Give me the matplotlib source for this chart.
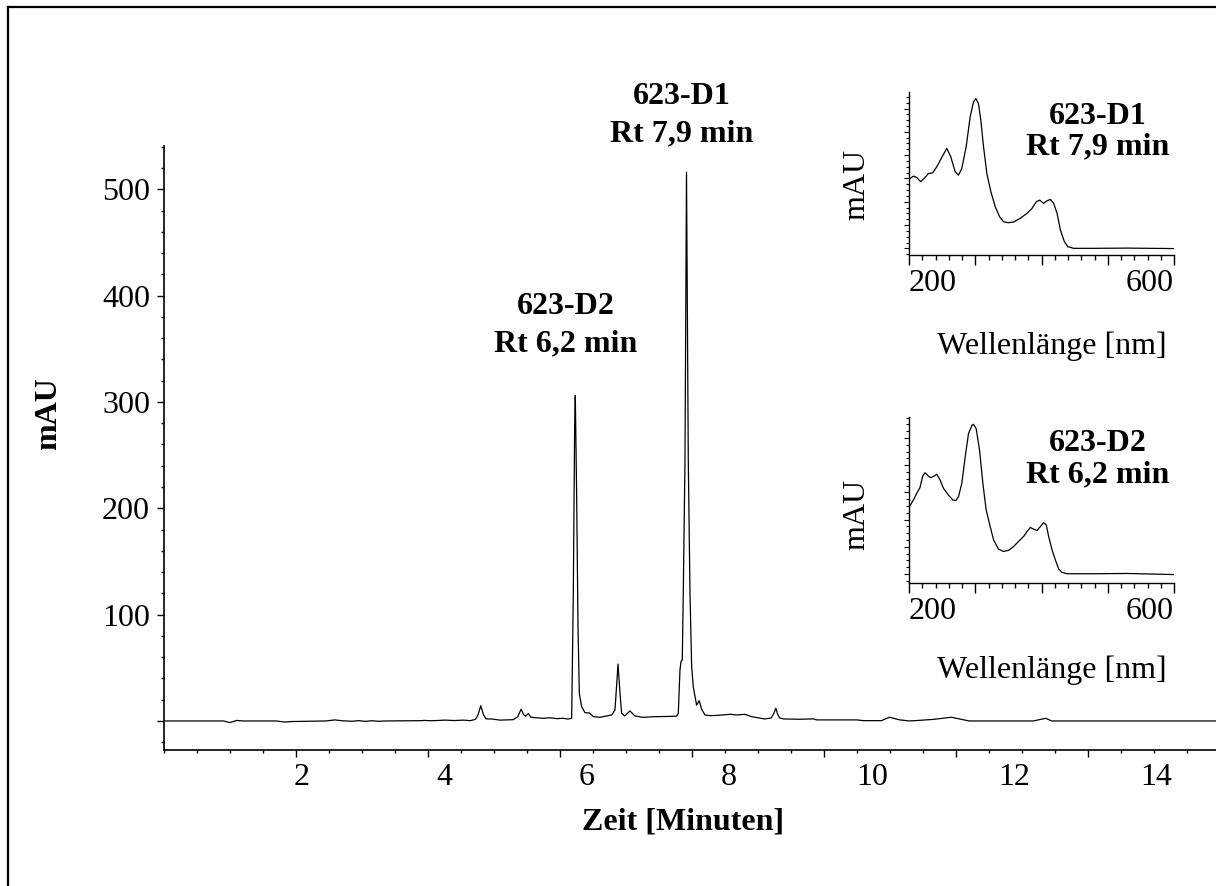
import matplotlib
matplotlib.use("Agg")
import matplotlib.pyplot as plt
from matplotlib.ticker import MultipleLocator
from matplotlib.lines import Line2D

# ---------------------------------------------------------------- data
# HPLC chromatogram: retention time [min] and absorbance [mAU]
time_min = [
    0.00, 0.50, 0.90, 1.00, 1.05, 1.10, 1.20, 1.70, 1.83, 1.95, 2.16, 2.45,
    2.59, 2.70, 2.85, 2.95, 3.05, 3.15, 3.25, 3.35, 3.90, 3.95, 4.05, 4.26,
    4.40, 4.54, 4.64, 4.72, 4.76, 4.80, 4.84, 4.88, 4.98, 5.09, 5.29, 5.36,
    5.41, 5.45, 5.48, 5.52, 5.56, 5.65, 5.75, 5.85, 5.95, 6.05, 6.12, 6.177,
    6.202, 6.222, 6.232, 6.252, 6.273, 6.293, 6.328, 6.379, 6.444, 6.505,
    6.606, 6.707, 6.783, 6.833, 6.860, 6.879, 6.909, 6.934, 6.98, 7.06,
    7.136, 7.26, 7.414, 7.60, 7.768, 7.793, 7.818, 7.833, 7.853, 7.868,
    7.894, 7.917, 7.944, 7.97, 7.995, 8.02, 8.07, 8.11, 8.147, 8.197, 8.28,
    8.39, 8.58, 8.68, 8.80, 8.90, 9.10, 9.20, 9.24, 9.27, 9.30, 9.33, 9.39,
    9.64, 9.84, 9.89, 10.50, 10.60, 10.87, 10.99, 11.15, 11.30, 11.66, 11.93,
    12.20, 13.17, 13.36, 13.45, 15.94,
]
absorbance = [
    0.0, 0.0, 0.0, -1.5, -0.5, 0.5, 0.0, 0.0, -1.0, -0.5, -0.3, 0.0,
    1.0, 0.2, -0.3, 0.3, -0.4, 0.2, -0.3, 0.0, 0.3, 0.5, 0.2, 0.8,
    0.4, 0.8, 0.3, 1.5, 6.0, 14.4, 6.0, 2.0, 1.8, 0.8, 1.2, 4.0,
    11.0, 6.0, 4.5, 7.0, 3.5, 3.0, 2.5, 3.0, 2.2, 2.5, 1.8, 2.5,
    120.0, 277.0, 306.0, 214.0, 89.0, 26.0, 13.5, 7.8, 7.5, 4.1,
    3.4, 4.7, 5.6, 10.3, 35.0, 53.6, 26.3, 7.2, 4.7, 9.4,
    4.7, 3.4, 4.0, 4.2, 4.5, 7.2, 48.0, 55.8, 57.4, 120.0,
    245.0, 516.0, 245.0, 120.0, 51.0, 32.0, 15.0, 19.0, 11.0, 5.6, 5.0,
    5.3, 6.3, 5.6, 6.3, 4.1, 1.9, 2.8, 7.0, 12.0, 6.0, 2.8, 1.9,
    1.6, 2.0, 1.0, 1.0, 0.3, 0.3, 3.5, 1.0, 0.0, 1.5, 3.5,
    0.0, 0.0, 2.5, 0.0, 0.0,
]

x_tick_values = [2, 4, 6, 8, 10, 12, 14]
x_label_pos = [2.086, 4.245, 6.405, 8.564, 10.723, 12.882, 15.041]
y_tick_values = [0, 100, 200, 300, 400, 500]
y_tick_labels = ["", "100", "200", "300", "400", "500"]

# UV spectrum of 623-D1 (Rt 7,9 min)
d1_nm = [
    200.0, 206.6, 211.6, 217.7, 224.2, 229.3, 235.8, 241.9, 249.4, 257.0,
    263.1, 269.6, 274.7, 279.7, 286.3, 292.3, 297.4, 300.9, 304.9, 308.4,
    312.5, 317.5, 323.6, 330.1, 336.7, 342.7, 350.3, 357.9, 368.0, 378.1,
    385.6, 392.2, 397.2, 403.3, 408.3, 413.4, 418.4, 423.5, 428.5, 434.5,
    439.6, 448.7, 478.9, 529.4, 600.0,
]
d1_mau = [
    29.6, 31.0, 30.4, 28.6, 30.4, 32.1, 32.4, 35.0, 39.0, 42.9,
    39.3, 32.9, 31.4, 34.3, 43.6, 56.4, 62.9, 64.3, 62.1, 55.0,
    43.6, 32.1, 24.3, 17.9, 13.6, 11.4, 11.0, 11.3, 12.9, 15.0,
    17.1, 20.0, 20.7, 19.3, 20.4, 21.0, 19.3, 15.0, 7.9, 2.9,
    0.7, 0.0, 0.0, 0.1, -0.1,
]

# UV spectrum of 623-D2 (Rt 6,2 min)
d2_nm = [
    200.0, 206.6, 211.6, 216.6, 220.7, 224.2, 229.3, 232.9, 237.9, 241.9,
    247.0, 252.0, 259.6, 266.1, 270.7, 274.7, 279.7, 284.8, 289.8, 294.9,
    297.4, 301.4, 306.5, 311.5, 316.5, 322.6, 327.6, 335.2, 342.7, 350.3,
    357.9, 365.4, 373.0, 378.1, 383.1, 388.2, 393.2, 398.2, 403.3, 407.3,
    410.8, 415.9, 420.9, 426.0, 431.0, 438.6, 478.9, 529.4, 600.0,
]
d2_mau = [
    24.5, 27.2, 29.6, 31.8, 36.0, 37.2, 36.0, 35.4, 36.0, 36.7,
    34.5, 31.5, 29.0, 27.2, 27.0, 28.4, 33.3, 43.0, 51.6, 54.6,
    55.0, 53.4, 45.5, 33.3, 23.5, 17.4, 12.6, 9.1, 8.3, 8.7,
    10.1, 12.0, 13.8, 15.6, 17.1, 16.5, 16.0, 17.4, 18.9, 18.0,
    13.8, 8.9, 5.2, 1.8, 0.6, 0.1, 0.1, 0.2, -0.2,
]

# ---------------------------------------------------------------- figure
plt.rcParams["font.family"] = ["Liberation Serif", "DejaVu Serif"]
plt.rcParams["font.size"] = 23

W, H = 1216, 886
fig = plt.figure(figsize=(W / 100, H / 100), dpi=100)


def box(left, top, right, bottom):
    """Axes rectangle from pixel edges (origin top-left)."""
    return [left / W, 1 - bottom / H, (right - left) / W, (bottom - top) / H]


def fxy(x, y):
    return x / W, 1 - y / H


# frame lines of the page
fig.add_artist(Line2D([8 / W, 8 / W], [0, 1 - 7 / H], color="black", lw=1.6))
fig.add_artist(Line2D([8 / W, 1], [1 - 7 / H, 1 - 7 / H], color="black", lw=1.6))

# ---------------------------------------------------------------- chromatogram
ax = fig.add_axes(box(164, 146, 1216, 750))
ax.plot(time_min, absorbance, color="black", lw=0.9)
ax.set_xlim(0, 15.94)
ax.set_ylim(-27.3, 540.7)
for side in ("top", "right"):
    ax.spines[side].set_visible(False)
for side in ("left", "bottom"):
    ax.spines[side].set_linewidth(1.2)

ax.set_yticks(y_tick_values, labels=y_tick_labels)
ax.yaxis.set_minor_locator(MultipleLocator(20))
ax.set_xticks(x_tick_values, labels=[])
ax.xaxis.set_minor_locator(MultipleLocator(0.5))
ax.tick_params(which="major", direction="out", length=5, width=1, pad=5)
ax.tick_params(which="minor", direction="out", length=2.5, width=1)

xt = ax.get_xaxis_transform()
for v, pos in zip(x_tick_values, x_label_pos):
    ax.text(pos, -0.046, str(v), transform=xt, ha="center", va="center")

fig.text(*fxy(49, 414), "mAU", rotation=90, weight="bold", ha="center", va="center")
fig.text(*fxy(683, 822), "Zeit [Minuten]", weight="bold", ha="center", va="center")

fig.text(*fxy(566, 325), "623-D2\nRt 6,2 min", weight="bold", ha="center",
         va="center", linespacing=1.39)
fig.text(*fxy(682, 115.5), "623-D1\nRt 7,9 min", weight="bold", ha="center",
         va="center", linespacing=1.39)


# ---------------------------------------------------------------- spectra
def spectrum_axes(rect, nm, mau, ylim):
    a = fig.add_axes(rect)
    a.plot(nm, mau, color="black", lw=0.9)
    a.set_xlim(200, 600)
    a.set_ylim(*ylim)
    for side in ("top", "right"):
        a.spines[side].set_visible(False)
    for side in ("left", "bottom"):
        a.spines[side].set_linewidth(1.0)
    a.set_xticks([200, 300, 400, 500, 600], labels=["200", "", "", "", "600"])
    labels = a.get_xticklabels()
    labels[0].set_horizontalalignment("left")
    labels[-1].set_horizontalalignment("right")
    a.xaxis.set_minor_locator(MultipleLocator(20))
    a.set_yticks(range(0, int(ylim[1]) + 1, 10), labels=[])
    a.yaxis.set_minor_locator(MultipleLocator(2.5))
    a.tick_params(axis="x", which="major", length=7, width=1, pad=3)
    a.tick_params(axis="x", which="minor", length=3.5, width=1)
    a.tick_params(axis="y", which="major", length=3.5, width=0.8)
    a.tick_params(axis="y", which="minor", length=2, width=0.8)
    return a


spectrum_axes(box(909, 92, 1174, 255), d1_nm, d1_mau, (-2.86, 67.1))
spectrum_axes(box(909, 417, 1174, 583), d2_nm, d2_mau, (-3.3, 57.7))

fig.text(*fxy(857, 185), "mAU", rotation=90, ha="center", va="center")
fig.text(*fxy(857, 515), "mAU", rotation=90, ha="center", va="center")
fig.text(*fxy(1052, 346), "Wellenlänge [nm]", ha="center", va="center")
fig.text(*fxy(1052, 670), "Wellenlänge [nm]", ha="center", va="center")
fig.text(*fxy(1098, 131.5), "623-D1\nRt 7,9 min", weight="bold", ha="center",
         va="center", linespacing=1.08)
fig.text(*fxy(1098, 459), "623-D2\nRt 6,2 min", weight="bold", ha="center",
         va="center", linespacing=1.1)

fig.savefig("out.png", dpi=100)
